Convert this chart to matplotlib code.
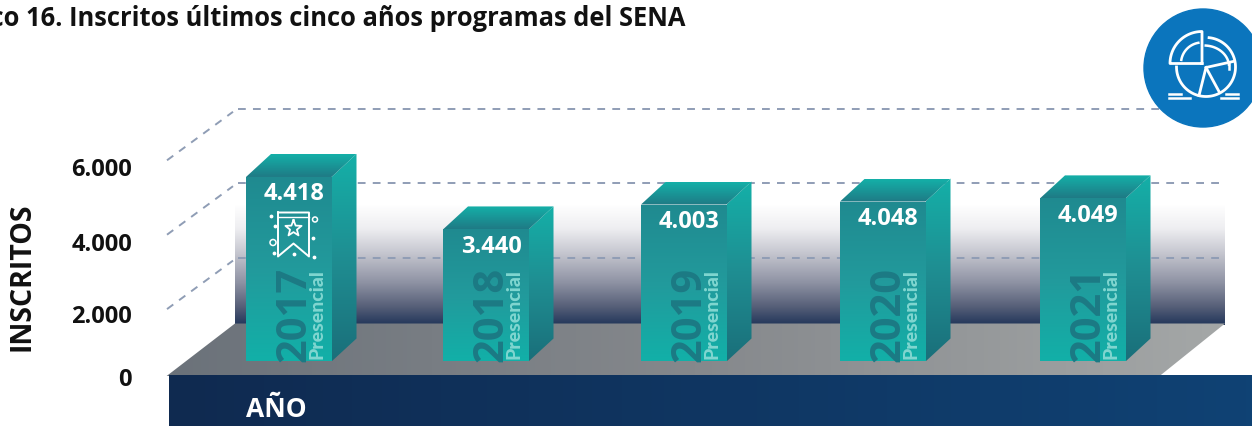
import numpy as np
import matplotlib
matplotlib.use("Agg")
import matplotlib.pyplot as plt
from matplotlib.colors import LinearSegmentedColormap
from matplotlib.patches import Polygon, Circle

plt.rcParams["font.family"] = ["Open Sans", "DejaVu Sans"]

# ---- datos ----
anios = ["2017", "2018", "2019", "2020", "2021"]
inscritos = ["4.418", "3.440", "4.003", "4.048", "4.049"]
# altura dibujada de cada barra, en unidades del eje (no es proporcional a la etiqueta)
alturas = [4960, 3550, 4220, 4300, 4385]
ticks = [0, 2000, 4000, 6000]
tick_labels = ["0", "2.000", "4.000", "6.000"]
modalidad = "Presencial"
titulo = "Gráfico 16. Inscritos últimos cinco años programas del SENA"

# ---- escala ----
px_por_unidad = 0.0372
base_frente = 362
base_fondo = 332.5
x_barras = [246, 443, 641, 840, 1040]
ancho = 85.5
dx, dy = 25, -23

fig = plt.figure(figsize=(12.52, 4.27), dpi=100)
ax = fig.add_axes([0, 0, 1, 1])
ax.axis("off")


def gradiente(puntos, colores, z, horizontal=False):
    puntos = np.array(puntos)
    x0, x1 = puntos[:, 0].min(), puntos[:, 0].max()
    y0, y1 = puntos[:, 1].min(), puntos[:, 1].max()
    cmap = LinearSegmentedColormap.from_list("g", colores)
    t = np.linspace(0, 1, 256)
    datos = t[None, :] if horizontal else t[:, None]
    im = ax.imshow(datos, cmap=cmap, extent=(x0, x1, y1, y0), aspect="auto",
                   origin="upper", zorder=z, interpolation="bilinear")
    im.set_clip_path(Polygon(puntos, transform=ax.transData))


ax.set_xlim(0, 1252)
ax.set_ylim(426.5, -0.5)

# ---- pared, piso y franja ----
gradiente([(235, 205), (1225, 205), (1225, 326), (235, 326)],
          [(0, "#ffffff"), (0.2, "#eeeef1"), (0.4, "#c6c7d0"), (0.65, "#8e92a3"),
           (0.85, "#565f78"), (1, "#22365a")], 1)
gradiente([(166, 377), (235, 324), (1225, 324), (1159, 377)],
          ["#6b727a", "#85888c", "#a4a7a7"], 1.5, horizontal=True)
gradiente([(169, 375), (1252, 375), (1252, 429), (169, 429)],
          ["#0f2a50", "#0f4274"], 2, horizontal=True)

# ---- lineas guia ----
color_guia = "#8f9db5"
for v in ticks[1:]:
    y = base_fondo - v * px_por_unidad
    ax.plot([238, 1220], [y, y], color=color_guia, lw=1.4, dashes=(4, 3.7), zorder=3)
    ax.plot([167, 233], [y + 51.5, y + 3], color=color_guia, lw=1.4, dashes=(4, 3.7), zorder=3)

# ---- barras ----
for i, x in enumerate(x_barras):
    arriba = base_frente - alturas[i] * px_por_unidad
    gradiente([(x + ancho, arriba), (x + ancho + dx, arriba + dy),
               (x + ancho + dx, base_frente + dy), (x + ancho, base_frente)],
              ["#14b0a8", "#1f8e92", "#1a6f7a"], 4)
    gradiente([(x, arriba), (x + dx, arriba + dy), (x + ancho + dx, arriba + dy), (x + ancho, arriba)],
              ["#14b0a8", "#1f7a85"], 4)
    gradiente([(x, arriba), (x + ancho, arriba), (x + ancho, base_frente), (x, base_frente)],
              ["#1f8a90", "#229a9c", "#12b0a8"], 4)
    ax.text(x + 49, base_frente, anios[i], rotation=90, ha="center", va="bottom",
            fontsize=30, fontweight="bold", color="#1c7a84", zorder=5)
    ax.text(x + 71, base_frente - 3, modalidad, rotation=90, ha="center", va="bottom",
            fontsize=14, fontweight=900, family="Lato", color="#80d6d0", zorder=5)
    ax.text(x + 48, arriba + 16.5, inscritos[i], ha="center", va="center",
            fontsize=17, fontweight="bold", color="white", zorder=6)

# ---- icono cinta sobre la primera barra ----
ax.plot([278, 309, 309, 293.5, 278, 278], [213, 213, 257, 244, 257, 213], color="white", lw=1.4, zorder=6)
ax.plot([278, 309], [217, 217], color="white", lw=1, zorder=6)
ang = np.pi / 2 + np.arange(11) * np.pi / 5
rad = np.where(np.arange(11) % 2 == 0, 8.5, 3.6)
ax.plot(293.5 + rad * np.cos(ang), 229 - rad * np.sin(ang), color="white", lw=1.3, zorder=6)
for cx, cy, r in [(273, 243, 3), (315, 220, 2.5)]:
    ax.add_patch(Circle((cx, cy), r, fill=False, ec="white", lw=1.1, zorder=6))
ax.scatter([271, 275, 274, 313, 314, 294], [216, 226, 253, 238, 257, 254], s=3, color="white", zorder=6)

# ---- icono circular ----
ax.add_patch(Circle((1203, 68.5), 59, color="#0b75bd", zorder=7))
cx, cy, r = 1206, 67.5, 29.5
t = np.radians(np.linspace(-180, 84, 120))
ax.plot(cx + r * np.cos(t), cy - r * np.sin(t), color="white", lw=2, zorder=8)
t = np.radians(np.linspace(90, 180, 40))
ax.plot([1202, 1202] + list(1202 + 32 * np.cos(t)) + [1170, 1202],
        [64, 32] + list(64 - 32 * np.sin(t)) + [64, 64], color="white", lw=2, zorder=8)
t = np.radians(np.linspace(100, 170, 30))
ax.plot(1202 + 21 * np.cos(t), 64 - 21 * np.sin(t), color="white", lw=1.8, zorder=8)
t = np.radians(np.linspace(5, 86, 40))
ax.plot(1204 + 25 * np.cos(t), 67 - 21 * np.sin(t), color="white", lw=1.8, zorder=8)
ax.plot([1229, 1229], [62, 69], color="white", lw=1.8, zorder=8)
ax.plot([1233, 1206, 1199], [62, 68, 96], color="white", lw=2, zorder=8)
ax.plot([1206, 1219], [68, 92], color="white", lw=2, zorder=8)
ax.plot([1169, 1181], [94, 94], color="white", lw=1.8, zorder=8)
ax.plot([1169, 1190], [98.5, 98.5], color="white", lw=1.8, zorder=8)
ax.plot([1226, 1238], [94, 94], color="white", lw=1.8, zorder=8)
ax.plot([1221, 1238], [98.5, 98.5], color="white", lw=1.8, zorder=8)

# ---- textos ----
ax.text(685, 18, titulo, ha="right", va="center", fontsize=18.4, fontweight="bold", color="#111111")
y_ticks = [380, 316.5, 244.5, 169.5]
for lab, y in zip(tick_labels, y_ticks):
    ax.text(132, y, lab, ha="right", va="center", fontsize=17, fontweight="bold", color="#111111")
ax.text(22, 276.5, "INSCRITOS", rotation=90, ha="center", va="center", fontsize=20.5, fontweight="bold", color="#111111")
ax.text(246, 409, "AÑO", ha="left", va="center", fontsize=19, fontweight="bold", color="white", zorder=6)

fig.savefig("out.png", dpi=100)
